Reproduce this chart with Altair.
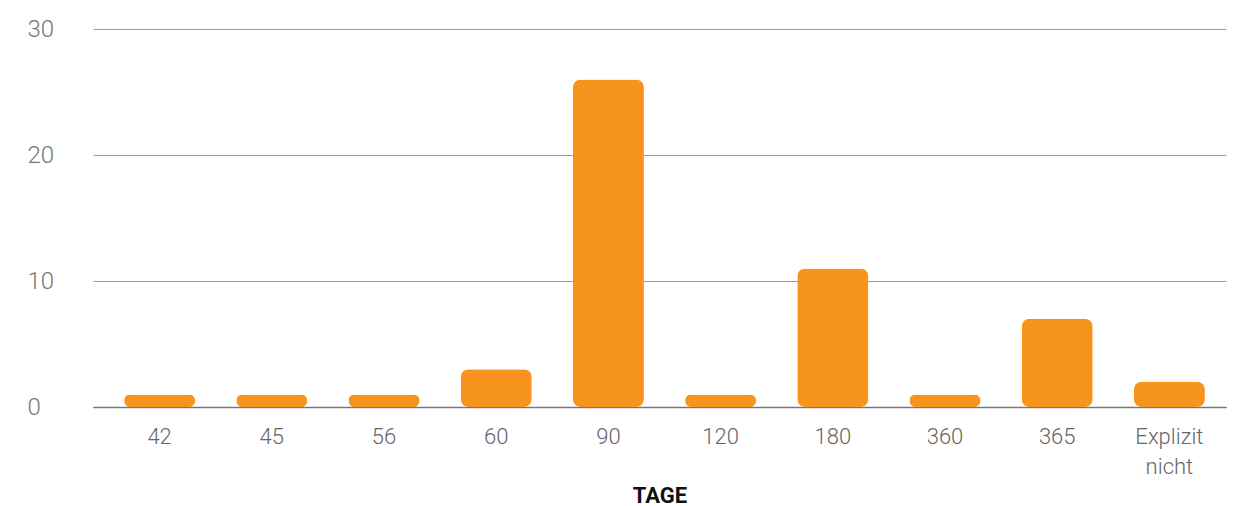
import altair as alt
import pandas as pd

categories = ["42", "45", "56", "60", "90", "120", "180", "360", "365", "Explizit nicht"]
values = [1, 1, 1, 3, 26, 1, 11, 1, 7, 2]

df = pd.DataFrame({"tage": categories, "anzahl": values})

chart = alt.Chart(df).mark_bar(
    color="#F7941D", cornerRadius=8, xOffset=5
).encode(
    x=alt.X(
        "tage:N",
        sort=categories,
        title="TAGE",
        scale=alt.Scale(paddingInner=0.367, paddingOuter=0.2327),
        axis=alt.Axis(
            labelAngle=0,
            labelFont="Roboto",
            labelFontWeight=300,
            labelFontSize=22,
            labelColor="#666666",
            labelPadding=19,
            labelOffset=5,
            labelLineHeight=30,
            labelExpr="datum.label == 'Explizit nicht' ? ['Explizit', 'nicht'] : datum.label",
            ticks=False,
            domainColor="#777777",
            domainWidth=1.5,
            titleFont="Roboto",
            titleFontWeight="bold",
            titleFontSize=22,
            titleColor="#111111",
            titlePadding=8,
        ),
    ),
    y=alt.Y(
        "anzahl:Q",
        title=None,
        scale=alt.Scale(domain=[0, 30]),
        axis=alt.Axis(
            values=[0, 10, 20, 30],
            labelFont="Roboto",
            labelFontWeight=300,
            labelFontSize=24,
            labelColor="#777777",
            labelAlign="left",
            labelPadding=66,
            ticks=False,
            domain=False,
            gridColor="#9a9a9a",
            gridWidth=1,
        ),
    ),
).properties(
    width=1133,
    height=378,
    autosize=alt.AutoSizeParams(type="none"),
    padding={"left": 93, "top": 29, "right": 14, "bottom": 99},
).configure_view(stroke=None)

chart.save("out.html", embed_options={"renderer": "svg", "actions": False})
